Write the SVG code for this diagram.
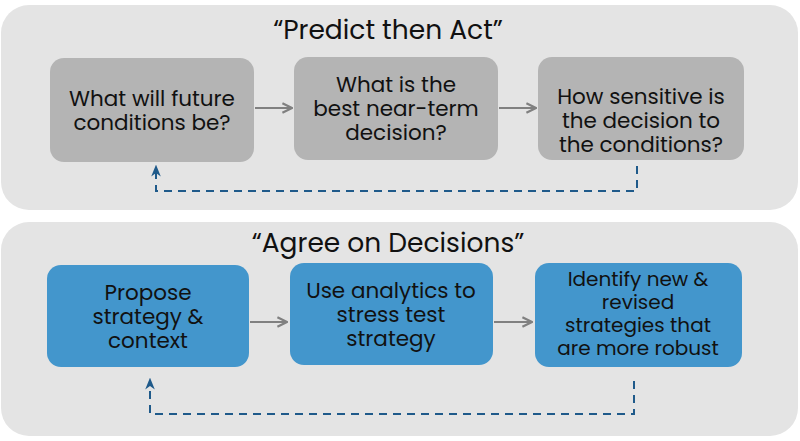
<svg xmlns="http://www.w3.org/2000/svg" width="800" height="441" viewBox="0 0 800 441">
<style>
.panel{fill:#e4e4e4}
.g{fill:#b4b4b4}
.b{fill:#4396cc}
text{font-family:Poppins,"Open Sans","Noto Sans",sans-serif;fill:#111;text-anchor:middle}
.t{font-size:26.5px}
.n{font-size:21.5px}
.m{font-size:20px}
.flow{stroke:#808080;stroke-width:2;fill:none}
.dash{stroke:#1f5a8a;stroke-width:2;fill:none;stroke-dasharray:8 6}
</style>
<defs>
<marker id="ga" viewBox="0 0 10 10" refX="9" refY="5" markerWidth="6" markerHeight="6" orient="auto"><path d="M1 1L9 5L1 9" fill="none" stroke="#808080" stroke-width="1.8"/></marker>
<marker id="ba" viewBox="0 0 10 10" refX="8" refY="5" markerWidth="6" markerHeight="6" orient="auto"><path d="M0 1L10 5L0 9L3 5Z" fill="#1f5a8a"/></marker>
</defs>
<rect class="panel" x="1" y="5" width="797" height="205" rx="28"/>
<rect class="panel" x="1" y="222" width="797" height="214" rx="28"/>
<text class="t" x="388" y="39">“Predict then Act”</text>
<text class="t" x="388" y="252">“Agree on Decisions”</text>
<g id="n1"><rect class="g" x="50" y="58" width="204" height="104" rx="14"/><text class="n" x="152" y="106">What will future</text><text class="n" x="152" y="130">conditions be?</text></g>
<g id="n2"><rect class="g" x="294" y="57" width="204" height="103" rx="14"/><text class="n" x="396" y="92">What is the</text><text class="n" x="396" y="116">best near-term</text><text class="n" x="396" y="140">decision?</text></g>
<g id="n3"><rect class="g" x="538" y="57" width="206" height="103" rx="14"/><text class="n" x="641" y="104">How sensitive is</text><text class="n" x="641" y="128">the decision to</text><text class="n" x="641" y="152">the conditions?</text></g>
<g id="n4"><rect class="b" x="47" y="265" width="202" height="102" rx="14"/><text class="n" x="148" y="300">Propose</text><text class="n" x="148" y="324">strategy &amp;</text><text class="n" x="148" y="348">context</text></g>
<g id="n5"><rect class="b" x="290" y="263" width="203" height="102" rx="14"/><text class="n" x="391" y="298">Use analytics to</text><text class="n" x="391" y="322">stress test</text><text class="n" x="391" y="346">strategy</text></g>
<g id="n6"><rect class="b" x="535" y="263" width="207" height="104" rx="14"/><text class="m" x="638" y="286">Identify new &amp;</text><text class="m" x="638" y="309">revised</text><text class="m" x="638" y="332">strategies that</text><text class="m" x="638" y="355">are more robust</text></g>
<g id="connectors">
<path class="flow" d="M255 108H292" marker-end="url(#ga)"/>
<path class="flow" d="M499 108H536" marker-end="url(#ga)"/>
<path class="flow" d="M250 322H287" marker-end="url(#ga)"/>
<path class="flow" d="M494 322H532" marker-end="url(#ga)"/>
<path class="dash" d="M637 166V191H156V167" marker-end="url(#ba)"/>
<path class="dash" d="M634 381V414H150V380" marker-end="url(#ba)"/>
</g>
</svg>
